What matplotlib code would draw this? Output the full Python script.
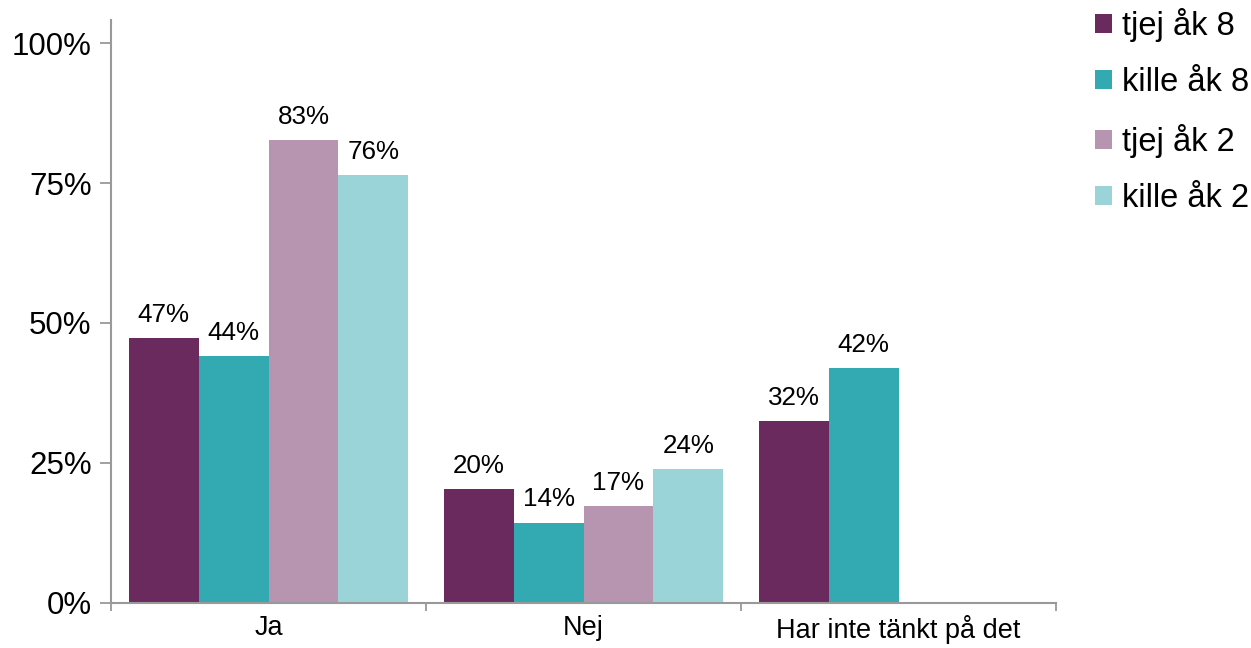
import numpy as np
import matplotlib
matplotlib.use('Agg')
import matplotlib.pyplot as plt
from matplotlib.patches import Patch

plt.rcParams['font.family'] = ['Liberation Sans', 'DejaVu Sans']

categories = ['Ja', 'Nej', 'Har inte tänkt på det']
series = ['tjej åk 8', 'kille åk 8', 'tjej åk 2', 'kille åk 2']
tjej_ak8 = [0.473, 0.203, 0.324]
kille_ak8 = [0.441, 0.143, 0.419]
tjej_ak2 = [0.828, 0.172, np.nan]
kille_ak2 = [0.764, 0.238, np.nan]
colors = ['#6A2A5E', '#33A9B1', '#B794AF', '#9BD4D8']

values = [tjej_ak8, kille_ak8, tjej_ak2, kille_ak2]

fig = plt.figure(figsize=(12.51, 6.48), dpi=100)
ax = fig.add_axes([111 / 1251, 1 - 602.5 / 648, (1056 - 111) / 1251, (602.5 - 20) / 648])

x = np.arange(len(categories))
w = 0.222
for k, (vals, col) in enumerate(zip(values, colors)):
    pos = x + (k - 1.5) * w
    ax.bar(pos, vals, w, color=col)
    for p, v in zip(pos, vals):
        if np.isnan(v):
            continue
        ax.annotate(f'{v * 100:.0f}%', (p, v), textcoords='offset points',
                    xytext=(0, 8), ha='center', va='bottom', fontsize=18.7)

ax.set_xlim(-0.5, 2.5)
ax.set_ylim(0, 1.042)
ax.set_yticks([0, 0.25, 0.5, 0.75, 1.0])
ax.set_yticklabels(['0%', '25%', '50%', '75%', '100%'], fontsize=22.5)

# kategorietiketter mitt i varje grupp, tickmarkeringar vid gränserna
ax.set_xticks([-0.5, 0.5, 1.5, 2.5])
ax.set_xticklabels([])
ax.set_xticks(x, minor=True)
ax.set_xticklabels(categories, minor=True, fontsize=19.5)
ax.tick_params(axis='x', which='minor', length=0, pad=9)
ax.tick_params(axis='x', which='major', length=6, width=1.3, color='#999999')
ax.tick_params(axis='y', length=8, width=1.3, color='#999999', pad=6)

for s in ['top', 'right']:
    ax.spines[s].set_visible(False)
for s in ['left', 'bottom']:
    ax.spines[s].set_color('#999999')
    ax.spines[s].set_linewidth(1.5)

handles = [Patch(facecolor=c, label=l) for c, l in zip(colors, series)]
fig.legend(handles=handles, loc='upper left', bbox_to_anchor=(1095 / 1251, 1 - 8 / 648),
           frameon=False, fontsize=23.5, handlelength=0.52, handleheight=0.52,
           handletextpad=0.3, labelspacing=0.78, borderpad=0, borderaxespad=0)

fig.savefig('out.png', dpi=100)
